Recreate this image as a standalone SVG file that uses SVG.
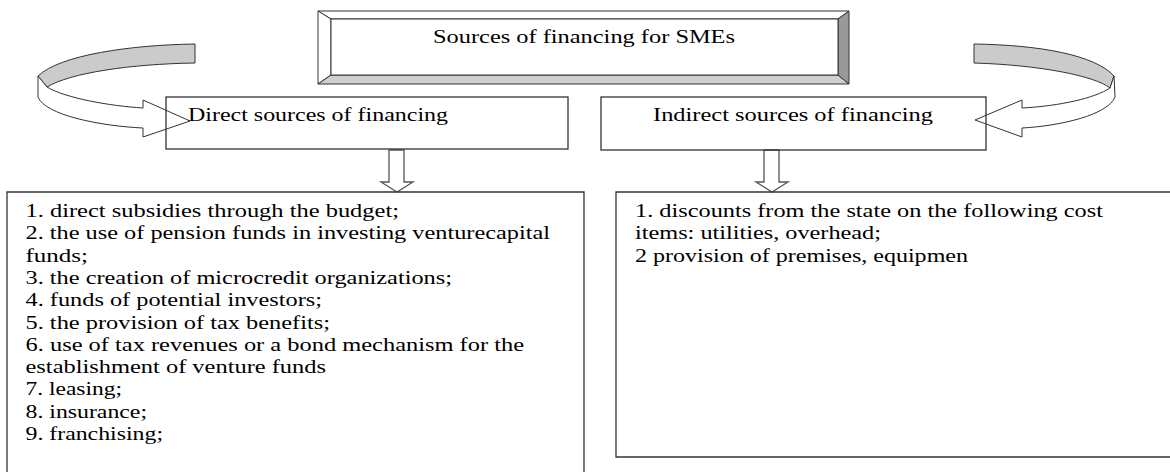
<svg xmlns="http://www.w3.org/2000/svg" width="1170" height="472" viewBox="0 0 1170 472">
  <style>
    .t { font-family: "Liberation Serif", "Times New Roman", "DejaVu Serif", serif; font-size: 19.5px; fill: #000; }
    .box { fill: none; stroke: #333; stroke-width: 1.3; }
    .bev { stroke: #333; stroke-width: 1; stroke-linejoin: miter; }
    .arrow { fill: #fff; stroke: #555; stroke-width: 1.3; stroke-linejoin: miter; }
    .rib { fill: #cbcbcb; stroke: #333; stroke-width: 1; }
    .ribw { fill: #fff; stroke: #333; stroke-width: 1; stroke-linejoin: miter; }
  </style>
  <rect width="1170" height="472" fill="#fff"/>

  <g id="connectors">
    <g id="curve-left">
      <path class="rib" d="M195,44 C130,45 60,55 38,76 L47,87 C70,73 130,64 195,63 Z"/>
      <path class="ribw" d="M38,76 L38,97 C45,115 100,126 143,128 L143,137 L190,121 L143,100 L143,108 C110,106 65,98 47,87 Z"/>
    </g>
    <g id="curve-right">
      <path class="rib" d="M974,44 C1040,45 1095,55 1114,76 L1110,88 C1095,76 1040,65 974,63 Z"/>
      <path class="ribw" d="M1114,76 L1115,97 C1108,115 1060,126 1022,128 L1022,137 L975,120 L1022,100 L1022,108 C1060,106 1095,98 1110,88 Z"/>
    </g>
    <path id="down-left" class="arrow" d="M389,150 L404,150 L404,182 L413,182 L397,192 L381,182 L389,182 Z"/>
    <path id="down-right" class="arrow" d="M764,150 L779,150 L779,182 L788,182 L772,192 L756,182 L764,182 Z"/>
  </g>

  <g id="node-title">
    <polygon class="bev" fill="#fff" points="318,11 849,11 838,19 331,19"/>
    <polygon class="bev" fill="#fff" points="318,11 331,19 331,75 318,84"/>
    <polygon class="bev" fill="#cfcfcf" points="318,84 331,75 838,75 849,84"/>
    <polygon class="bev" fill="#999" points="849,11 849,84 838,75 838,19"/>
    <rect class="bev" fill="#fff" x="331" y="19" width="507" height="56"/>
    <text class="t" x="433" y="43" textLength="302" lengthAdjust="spacingAndGlyphs">Sources of financing for SMEs</text>
  </g>

  <g id="node-direct">
    <rect class="box" x="166" y="97" width="402" height="52"/>
    <text class="t" x="188" y="121" textLength="260" lengthAdjust="spacingAndGlyphs">Direct sources of financing</text>
  </g>

  <g id="node-indirect">
    <rect class="box" x="601" y="97" width="385" height="53"/>
    <text class="t" x="653" y="121" textLength="280" lengthAdjust="spacingAndGlyphs">Indirect sources of financing</text>
  </g>

  <g id="node-direct-list">
    <path class="box" d="M7,480 L7,192 L584,192 L584,480"/>
    <text class="t" x="25.5" y="217" textLength="373.5" lengthAdjust="spacingAndGlyphs">1. direct subsidies through the budget;</text>
    <text class="t" x="25.5" y="239.3" textLength="524.5" lengthAdjust="spacingAndGlyphs">2. the use of pension funds in investing venturecapital</text>
    <text class="t" x="25.5" y="261.6" textLength="62.5" lengthAdjust="spacingAndGlyphs">funds;</text>
    <text class="t" x="25.5" y="283.9" textLength="426.5" lengthAdjust="spacingAndGlyphs">3. the creation of microcredit organizations;</text>
    <text class="t" x="25.5" y="306.2" textLength="296.5" lengthAdjust="spacingAndGlyphs">4. funds of potential investors;</text>
    <text class="t" x="25.5" y="328.5" textLength="304.5" lengthAdjust="spacingAndGlyphs">5. the provision of tax benefits;</text>
    <text class="t" x="25.5" y="350.8" textLength="498.5" lengthAdjust="spacingAndGlyphs">6. use of tax revenues or a bond mechanism for the</text>
    <text class="t" x="25.5" y="373.1" textLength="300.5" lengthAdjust="spacingAndGlyphs">establishment of venture funds</text>
    <text class="t" x="25.5" y="395.4" textLength="96.5" lengthAdjust="spacingAndGlyphs">7. leasing;</text>
    <text class="t" x="25.5" y="417.7" textLength="121.5" lengthAdjust="spacingAndGlyphs">8. insurance;</text>
    <text class="t" x="25.5" y="440" textLength="137.5" lengthAdjust="spacingAndGlyphs">9. franchising;</text>
  </g>

  <g id="node-indirect-list">
    <path class="box" d="M1180,192 L616,192 L616,457 L1180,457"/>
    <text class="t" x="635" y="217" textLength="468" lengthAdjust="spacingAndGlyphs">1. discounts from the state on the following cost</text>
    <text class="t" x="635" y="239.3" textLength="246" lengthAdjust="spacingAndGlyphs">items: utilities, overhead;</text>
    <text class="t" x="635" y="261.6" textLength="333" lengthAdjust="spacingAndGlyphs">2 provision of premises, equipmen</text>
  </g>
</svg>
